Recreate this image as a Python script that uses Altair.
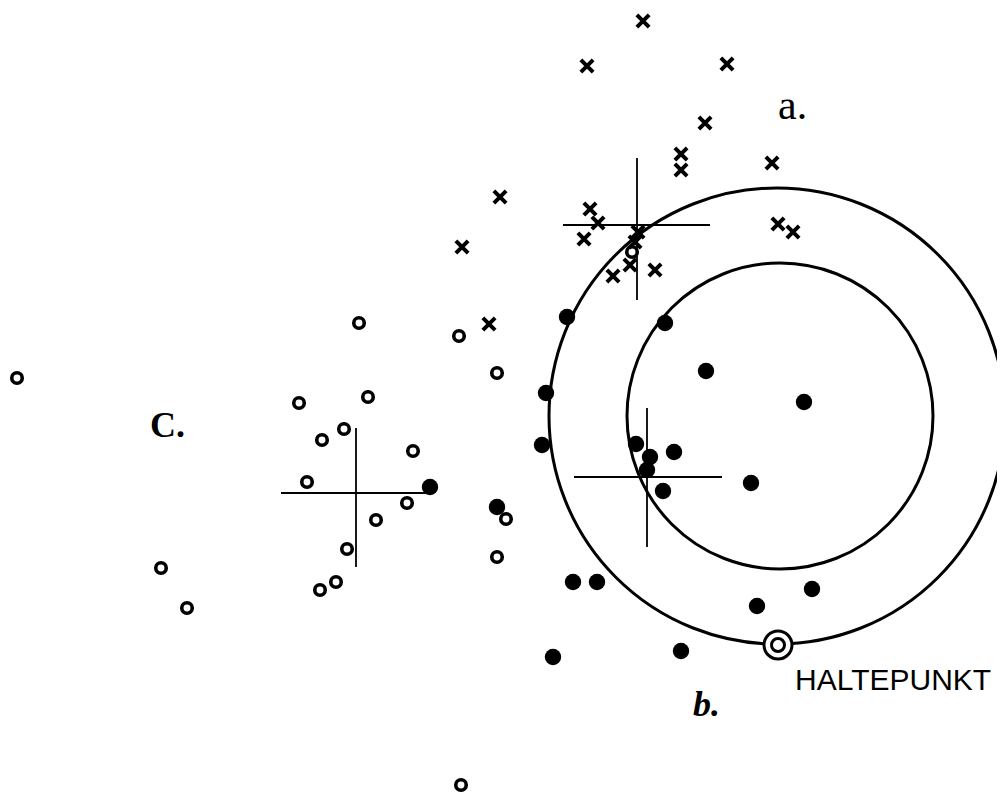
import altair as alt
import pandas as pd

# Group a: crosses (page pixel coordinates)
a_x = [643, 587, 727, 705, 681, 681, 772, 500, 462, 590, 598, 584, 638, 635, 630, 613, 655, 778, 793, 489]
a_y = [21, 66, 64, 123, 154, 170, 163, 197, 247, 209, 223, 239, 232, 242, 265, 276, 270, 224, 232, 324]

# Group b: filled dots
b_x = [567, 665, 706, 804, 546, 542, 636, 674, 650, 647, 663, 751, 573, 597, 812, 757, 553, 681, 497, 430]
b_y = [317, 323, 371, 402, 393, 445, 444, 452, 457, 470, 491, 483, 582, 582, 589, 606, 657, 651, 507, 487]

# Group c: open circles
c_x = [17, 359, 299, 368, 344, 322, 413, 307, 407, 376, 347, 336, 320, 161, 187, 459, 497, 506, 497, 461, 632]
c_y = [378, 323, 403, 397, 429, 440, 451, 482, 503, 520, 549, 582, 590, 568, 608, 336, 373, 519, 557, 785, 252]

# Mean-point crosshairs (horizontal: x1, x2, y ; vertical: x, y1, y2)
h_x1 = [563, 574, 281]
h_x2 = [710, 722, 430]
h_y = [225, 477, 493]
v_x = [637, 647, 356]
v_y1 = [158, 408, 428]
v_y2 = [300, 547, 567]

# Target rings: centre and radii
ring_cx = [777, 780]
ring_cy = [416, 416]
ring_r = [228, 153]

# Aim point (Haltepunkt) with two rings
aim_x = [778, 778]
aim_y = [645, 645]
aim_r = [14, 6.5]

# Labels
lab_text = ["a.", "C.", "b.", "HALTEPUNKT"]
lab_x = [778, 150, 693, 795]
lab_y = [119, 437, 716, 690]
lab_font = ["Liberation Serif", "Liberation Serif", "Liberation Serif", "Liberation Sans"]
lab_size = [42, 36, 36, 30]
lab_style = ["normal", "normal", "italic", "normal"]
lab_weight = ["normal", "bold", "bold", "normal"]

W, H = 989, 786
xs = alt.Scale(domain=[8, 8 + W], range=[0, W], nice=False, zero=False)
ys = alt.Scale(domain=[8, 8 + H], range=[0, H], nice=False, zero=False)
X = lambda f: alt.X(f, type="quantitative", scale=xs, axis=None)
Y = lambda f: alt.Y(f, type="quantitative", scale=ys, axis=None)

df_a = pd.DataFrame({"x": a_x, "y": a_y})
df_b = pd.DataFrame({"x": b_x, "y": b_y})
df_c = pd.DataFrame({"x": c_x, "y": c_y})
df_h = pd.DataFrame({"x": h_x1, "x2": h_x2, "y": h_y})
df_v = pd.DataFrame({"x": v_x, "y": v_y1, "y2": v_y2})
df_ring = pd.DataFrame({"x": ring_cx, "y": ring_cy, "s": [(2 * r) ** 2 for r in ring_r]})
df_aim = pd.DataFrame({"x": aim_x, "y": aim_y, "s": [(2 * r) ** 2 for r in aim_r]})

rings = alt.Chart(df_ring).mark_point(shape="circle", filled=False, color="black", strokeWidth=3, opacity=1).encode(
    x=X("x"), y=Y("y"), size=alt.Size("s:Q", scale=None, legend=None))

hl = alt.Chart(df_h).mark_rule(color="black", strokeWidth=1.8).encode(x=X("x"), x2="x2", y=Y("y"))
vl = alt.Chart(df_v).mark_rule(color="black", strokeWidth=1.8).encode(x=X("x"), y=Y("y"), y2="y2")

crosses = alt.Chart(df_a).mark_point(shape="M-1,-1L1,1M-1,1L1,-1", filled=False, color="black",
                                     strokeWidth=4, size=150, opacity=1).encode(x=X("x"), y=Y("y"))
dots = alt.Chart(df_b).mark_point(shape="circle", filled=True, color="black", size=270, opacity=1).encode(
    x=X("x"), y=Y("y"))
opens = alt.Chart(df_c).mark_point(shape="circle", filled=False, color="black", strokeWidth=3.6,
                                   size=110, opacity=1).encode(x=X("x"), y=Y("y"))
aim = alt.Chart(df_aim).mark_point(shape="circle", filled=True, fill="white", stroke="black", strokeWidth=3,
                                   opacity=1).encode(x=X("x"), y=Y("y"), size=alt.Size("s:Q", scale=None, legend=None))

texts = []
for t, x, y, f, s, st, w in zip(lab_text, lab_x, lab_y, lab_font, lab_size, lab_style, lab_weight):
    d = pd.DataFrame({"t": [t], "x": [x], "y": [y]})
    texts.append(alt.Chart(d).mark_text(align="left", baseline="alphabetic", font=f, fontSize=s,
                                        fontStyle=st, fontWeight=w, color="black").encode(
        x=X("x"), y=Y("y"), text="t:N"))

chart = alt.layer(rings, hl, vl, crosses, dots, opens, aim, *texts).properties(
    width=W, height=H, padding=0, background="white",
    autosize=alt.AutoSizeParams(type="none", contains="padding")
).configure_view(stroke=None)

chart.save("out.html", embed_options={"renderer": "svg", "actions": False})
